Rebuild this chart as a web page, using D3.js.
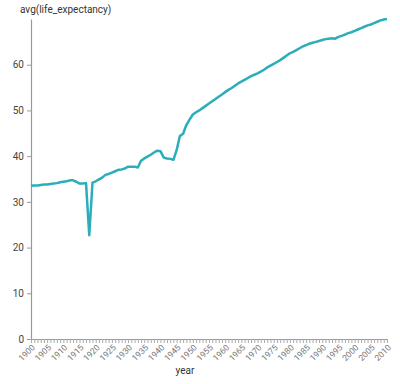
<!DOCTYPE html>
<html>
<head>
<meta charset="utf-8">
<script src="https://cdn.jsdelivr.net/npm/d3@7"></script>
<style>
  body { margin: 0; background: #fff; }
  text { font-family: Roboto, "Helvetica Neue", Arial, sans-serif; }
</style>
</head>
<body>
<svg id="chart" width="400" height="384"></svg>
<script>
const years = d3.range(1900, 2011);
const lifeExpectancy = [
  33.5, 33.6, 33.6, 33.7, 33.8, 33.8, 33.9, 34.0, 34.1, 34.3,
  34.4, 34.5, 34.7, 34.7, 34.4, 34.0, 34.0, 34.1, 22.7, 34.2,
  34.5, 34.9, 35.3, 35.9, 36.1, 36.4, 36.7, 37.0, 37.1, 37.3,
  37.7, 37.7, 37.7, 37.5, 39.0, 39.5, 39.9, 40.3, 40.8, 41.2,
  41.1, 39.7, 39.5, 39.4, 39.2, 41.3, 44.4, 44.9, 46.8, 48.0,
  49.1, 49.6, 50.0, 50.5, 51.0, 51.5, 52.0, 52.5, 53.0, 53.5,
  54.0, 54.5, 54.9, 55.4, 55.9, 56.3, 56.7, 57.1, 57.5, 57.8,
  58.1, 58.5, 58.9, 59.4, 59.8, 60.2, 60.6, 61.0, 61.5, 62.0,
  62.5, 62.8, 63.2, 63.6, 64.0, 64.3, 64.6, 64.8, 65.0, 65.2,
  65.4, 65.6, 65.7, 65.8, 65.7, 66.1, 66.3, 66.6, 66.9, 67.1,
  67.4, 67.7, 68.0, 68.3, 68.6, 68.8, 69.1, 69.4, 69.7, 69.9,
  70.0
];
const yTicks = [0, 10, 20, 30, 40, 50, 60];
const xLabelYears = d3.range(1900, 2011, 5);

const data = years.map((y, i) => ({ year: y, value: lifeExpectancy[i] }));

const margin = { top: 19, right: 13, bottom: 45, left: 31 };
const svg = d3.select('#chart');
const width = 400 - margin.left - margin.right;
const height = 384 - margin.top - margin.bottom;

const g = svg.append('g').attr('transform', `translate(${margin.left},${margin.top})`);

const x = d3.scaleLinear().domain([1900, 2010]).range([0, width]);
const y = d3.scaleLinear().domain([0, d3.max(lifeExpectancy)]).range([height, 0]);

// y axis
const yAxis = g.append('g')
  .call(d3.axisLeft(y).tickValues(yTicks).tickSize(4).tickPadding(3).tickSizeOuter(0));
yAxis.select('.domain').attr('stroke', '#999').attr('stroke-width', 1.2);
yAxis.selectAll('.tick line').attr('stroke', '#999');
yAxis.selectAll('.tick text').attr('fill', '#444').style('font-size', '10px');

// x axis: a tick per year, labels every 5 years
const xAxis = g.append('g')
  .attr('transform', `translate(0,${height})`)
  .call(d3.axisBottom(x).tickValues(years).tickSize(4).tickSizeOuter(0)
    .tickFormat(d => xLabelYears.includes(d) ? String(d) : ''));
xAxis.select('.domain').attr('stroke', '#999').attr('stroke-width', 1.2);
xAxis.selectAll('.tick line').attr('stroke', '#aaa');
xAxis.selectAll('.tick text')
  .attr('fill', '#777')
  .style('font-size', '8.5px')
  .attr('text-anchor', 'end')
  .attr('x', 0)
  .attr('y', 0)
  .attr('dy', '0.35em')
  .attr('transform', 'translate(2,7) rotate(-45)');

// line
const line = d3.line().x(d => x(d.year)).y(d => y(d.value));
g.append('path')
  .datum(data)
  .attr('fill', 'none')
  .attr('stroke', '#2badba')
  .attr('stroke-width', 2.5)
  .attr('stroke-linejoin', 'round')
  .attr('d', line);

// axis titles
svg.append('text')
  .attr('x', 20).attr('y', 13)
  .attr('fill', '#333')
  .style('font-size', '10px')
  .text('avg(life_expectancy)');

svg.append('text')
  .attr('x', 185).attr('y', 374)
  .attr('text-anchor', 'middle')
  .attr('fill', '#333')
  .style('font-size', '10px')
  .text('year');
</script>
</body>
</html>
